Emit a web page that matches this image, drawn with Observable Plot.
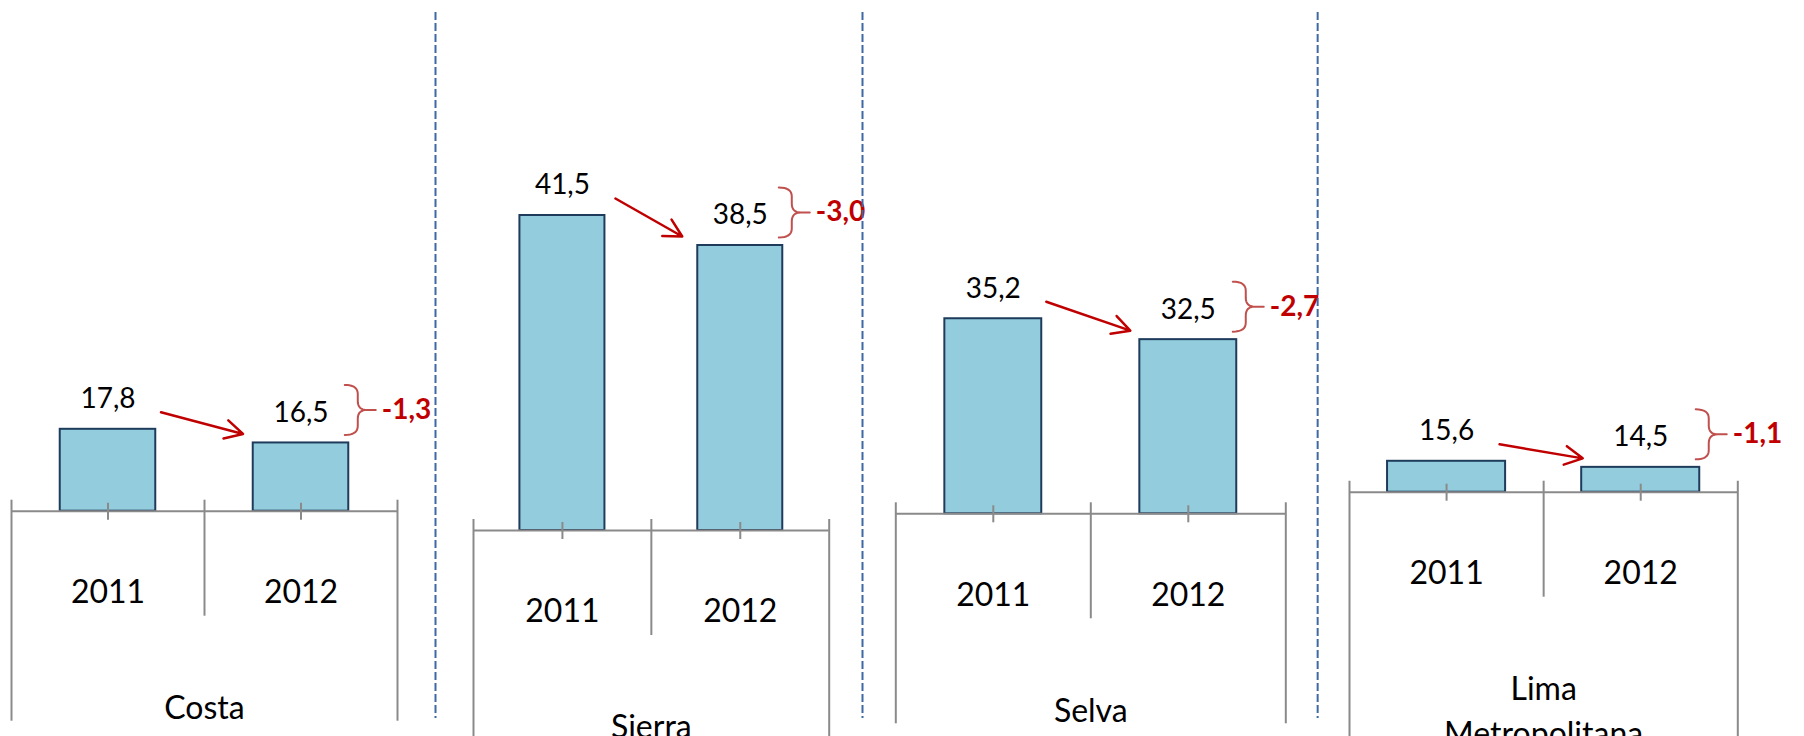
<!DOCTYPE html>
<html><head><meta charset="utf-8">
<script src="https://cdn.jsdelivr.net/npm/d3@7"></script>
<script src="https://cdn.jsdelivr.net/npm/@observablehq/plot@0.6"></script>
<style>
body{margin:0;background:#fff;}
#chart{position:relative;width:1804px;height:736px;overflow:hidden;background:#fff;}
#chart svg{position:absolute;top:0;}
</style></head><body><div id="chart"></div>
<script>
// ---- data ----
const regions = ["Costa", "Sierra", "Selva", "Lima\nMetropolitana"];
const years = ["2011", "2012"];
const values2011 = [17.8, 41.5, 35.2, 15.6];
const values2012 = [16.5, 38.5, 32.5, 14.5];
const axisMin = 10;

// ---- layout (pixels) ----
const layout = [
  {start: 0,    end: 450,  left: 11,     right: 397,    base: 510.7, k: 10.5, bar: 0.495, outer: 210},
  {start: 450,  end: 880,  left: 473,    right: 828.7,  base: 530,   k: 10.0, bar: 0.478, outer: 210},
  {start: 880,  end: 1330, left: 895.3,  right: 1285.3, base: 513.3, k: 7.74, bar: 0.497, outer: 210},
  {start: 1330, end: 1804, left: 1349,   right: 1737.3, base: 491.7, k: 5.52, bar: 0.608, outer: 250}
];
const H = 736;
const font = "Lato, 'Open Sans', sans-serif";
const gray = "#8a8a8a";
const red = "#c00000";
const braceRed = "#c0504d";
const fmt = v => v.toFixed(1).replace(".", ",");

function quad(p0, c, p1, n = 8) {
  const out = [];
  for (let s = 0; s <= n; s++) {
    const t = s / n;
    out.push([
      (1-t)*(1-t)*p0[0] + 2*(1-t)*t*c[0] + t*t*p1[0],
      (1-t)*(1-t)*p0[1] + 2*(1-t)*t*c[1] + t*t*p1[1]
    ]);
  }
  return out;
}

const chart = document.getElementById("chart");

regions.forEach((region, i) => {
  const L = layout[i];
  const gw = (L.right - L.left) / 2;
  const ux = px => px / gw;
  const uy = px => px / L.k;
  const v1 = values2011[i], v2 = values2012[i];
  const rows = years.map((year, j) => ({year, j, value: j ? v2 : v1}));
  const yTop = axisMin + L.base / L.k;

  // brace shape in pixel offsets (dx right, dy up) from bar-2 top-right corner
  const top = 58, bot = 8, mid = (top + bot) / 2, w = 9, x0 = -4, r = 9, tip = 27;
  const bp = [
    ...quad([x0, top], [w, top], [w, top - r]),
    [w, mid + r],
    ...quad([w, mid + r], [w, mid], [w + r, mid]),
    [tip, mid], [w + r, mid],
    ...quad([w + r, mid], [w, mid], [w, mid - r]),
    [w, bot + r],
    ...quad([w, bot + r], [w, bot], [x0, bot])
  ];
  const xr = 1 + (1 + L.bar) / 2;

  const marks = [
    Plot.rectY(rows, {
      x1: d => d.j + (1 - L.bar) / 2, x2: d => d.j + (1 + L.bar) / 2,
      y1: axisMin, y2: "value",
      fill: "#93cddd", stroke: "#1f3b5c", strokeWidth: 2
    }),
    Plot.ruleY([axisMin], {x1: 0, x2: 2, stroke: gray, strokeWidth: 2}),
    Plot.ruleX(rows, {x: d => d.j + 0.5, y1: axisMin + uy(8), y2: axisMin - uy(9), stroke: gray, strokeWidth: 2}),
    Plot.ruleX([0, 1, 2], {x: d => d, y1: axisMin + uy(11), y2: d => axisMin - uy(d === 1 ? 105 : L.outer), stroke: gray, strokeWidth: 2}),
    Plot.axisX({ticks: [0.5, 1.5], tickFormat: t => years[Math.floor(t)], tickSize: 0, tickPadding: 69, fontSize: 32, fill: "#000"}),
    Plot.text([region], {x: () => 1, y: () => axisMin, text: d => d, dy: 176, lineAnchor: "top", fontSize: 32, lineHeight: 1.4, fill: "#000"}),
    Plot.text(rows, {x: d => d.j + 0.5, y: "value", text: d => fmt(d.value), dy: -30, fontSize: 28, fill: "#000"}),
    Plot.arrow([0], {
      x1: () => 0.5 + ux(53), y1: () => v1 + uy(17),
      x2: () => 1.5 - ux(58), y2: () => v2 + uy(9),
      stroke: red, strokeWidth: 2.5, headLength: 12, headAngle: 56
    }),
    Plot.line(bp, {x: p => xr + ux(p[0]), y: p => v2 + uy(p[1]), stroke: braceRed, strokeWidth: 2}),
    Plot.text([fmt(v2 - v1)], {x: () => xr + ux(33), y: () => v2 + uy(mid), text: d => d, textAnchor: "start", fontWeight: "bold", fontSize: 28, fill: red})
  ];

  if (i < regions.length - 1) {
    const divPx = (layout[i + 1].left - L.right) / 2;
    marks.push(Plot.ruleX([0], {
      x: () => 2 + ux(divPx),
      y1: () => axisMin + uy(L.base - 12), y2: () => axisMin + uy(L.base - 718),
      stroke: "#3f69a3", strokeWidth: 2, strokeDasharray: "8,3"
    }));
  }

  const svg = Plot.plot({
    width: L.end - L.start, height: H,
    marginLeft: L.left - L.start, marginRight: L.end - L.right,
    marginTop: 0, marginBottom: H - L.base,
    x: {domain: [0, 2]},
    y: {domain: [axisMin, yTop], axis: null},
    style: {fontFamily: font, overflow: "visible", background: "transparent"},
    marks
  });
  svg.style.left = L.start + "px";
  chart.appendChild(svg);
});
</script>
</body></html>
